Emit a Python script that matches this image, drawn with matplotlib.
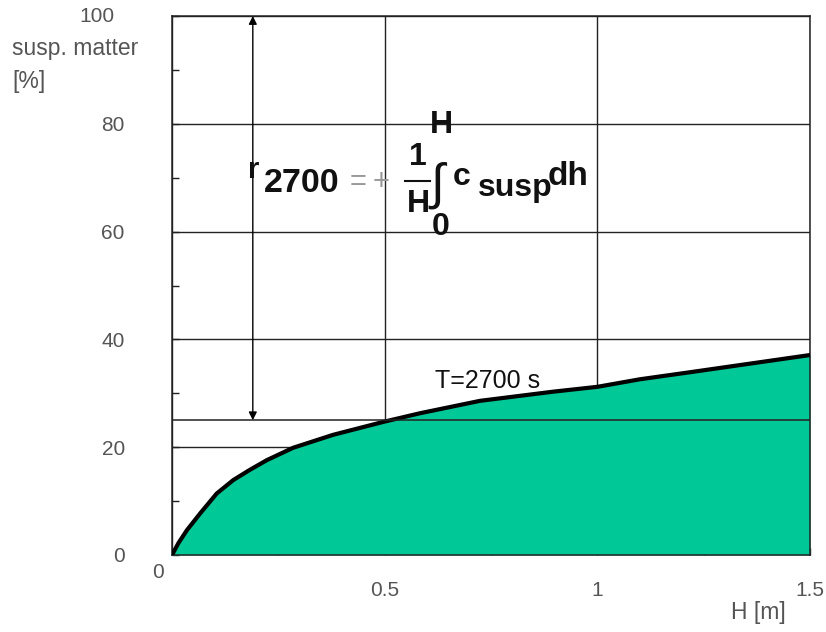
import matplotlib
matplotlib.use("Agg")
import matplotlib.pyplot as plt
from matplotlib.ticker import MultipleLocator
from matplotlib.lines import Line2D

# depth H [m] and suspended matter [%] at T=2700 s
depth = [0, 0.015, 0.035, 0.066, 0.105, 0.144, 0.183, 0.223, 0.285, 0.379, 0.497,
         0.583, 0.724, 0.896, 1.0, 1.1, 1.226, 1.5]
susp = [0, 2.2, 4.6, 7.7, 11.4, 13.9, 15.8, 17.6, 19.9, 22.3, 24.7,
        26.3, 28.6, 30.3, 31.2, 32.6, 34.0, 37.1]
mean_level = 25
arrow_x = 0.19
xticks = [0, 0.5, 1, 1.5]
xlabels = ["", "0.5", "1", "1.5"]
yticks = [0, 20, 40, 60, 80, 100]
ylabels = ["0", "20", "40", "60", "80", ""]

plt.rcParams["font.family"] = ["Liberation Sans", "DejaVu Sans"]
W, H = 826, 632
fig = plt.figure(figsize=(W / 100, H / 100), dpi=100)
ax = fig.add_axes([172 / W, 1 - 555 / H, (810 - 172) / W, (555 - 16) / H])


def px(x, y):
    return x / W, 1 - y / H


gray = "#555555"
ax.fill_between(depth, susp, 0, color="#00c896", zorder=2, lw=0)
ax.plot(depth, susp, color="black", lw=3, zorder=3,
        solid_capstyle="round", solid_joinstyle="round")
ax.axhline(mean_level, color="#222222", lw=1.1, zorder=4)
ax.annotate("", xy=(arrow_x, mean_level), xytext=(arrow_x, 100),
            arrowprops=dict(arrowstyle="<|-|>", color="black", lw=1,
                            mutation_scale=12, shrinkA=0, shrinkB=0), zorder=5)
ax.text(0.743, 32.3, "T=2700 s", fontsize=18, ha="center", va="center",
        color="#111111", zorder=5)

ax.set_xlim(0, 1.5)
ax.set_ylim(0, 100)
ax.set_xticks(xticks)
ax.set_xticklabels(xlabels)
ax.set_yticks(yticks)
ax.set_yticklabels(ylabels)
ax.xaxis.set_minor_locator(MultipleLocator(0.25))
ax.yaxis.set_minor_locator(MultipleLocator(10))
ax.tick_params(which="both", direction="in", length=5, width=1, color="#222222")
ax.tick_params(axis="y", which="major", pad=34, labelsize=15, labelcolor=gray)
ax.tick_params(axis="x", which="major", pad=19, labelsize=15, labelcolor=gray)
ax.grid(True, which="major", color="#222222", lw=1)
ax.set_axisbelow(True)
for s in ax.spines.values():
    s.set_color("#222222")
    s.set_linewidth(1.1)

# corner labels and axis titles
fig.text(*px(97, 16), "100", fontsize=15, color=gray, ha="center", va="center")
fig.text(*px(158, 573), "0", fontsize=15, color=gray, ha="center", va="center")
fig.text(*px(12, 55), "susp. matter", fontsize=16.5, color=gray, ha="left", va="baseline")
fig.text(*px(12, 88), "[%]", fontsize=16.5, color=gray, ha="left", va="baseline")
fig.text(*px(758, 612), "H [m]", fontsize=16.5, color=gray, ha="center", va="center")

# formula r2700 = + 1/H * int_0^H c_susp dh
b = dict(fontsize=23, fontweight="bold", color="#111111")
fig.text(*px(248, 178), "r", ha="left", va="baseline", fontsize=21,
         fontweight="bold", color="#111111")
fig.text(*px(264, 192), "2700", ha="left", va="baseline", fontsize=24.5,
         fontweight="bold", color="#111111")
fig.text(*px(350, 190), "=", ha="left", va="baseline", fontsize=21, color="#999999")
fig.text(*px(373, 190), "+", ha="left", va="baseline", fontsize=21, color="#999999")
fig.text(*px(418, 165), "1", ha="center", va="baseline", **b)
fig.add_artist(Line2D([405 / W, 430 / W], [1 - 181 / H, 1 - 181 / H],
                      color="#111111", lw=1.5))
fig.text(*px(418, 212), "H", ha="center", va="baseline", **b)
fig.text(*px(441, 133), "H", ha="center", va="baseline", **b)
fig.text(*px(441, 235), "0", ha="center", va="baseline", **b)
fig.text(*px(437, 185), "\u222b", ha="center", va="center", fontsize=36, color="#111111")
fig.text(*px(453, 185), "c", ha="left", va="baseline", **b)
fig.text(*px(478, 196), "susp", ha="left", va="baseline", **b)
fig.text(*px(548, 185), "dh", ha="left", va="baseline", fontsize=24,
         fontweight="bold", color="#111111")

fig.savefig("out.png", dpi=100, facecolor="white")
